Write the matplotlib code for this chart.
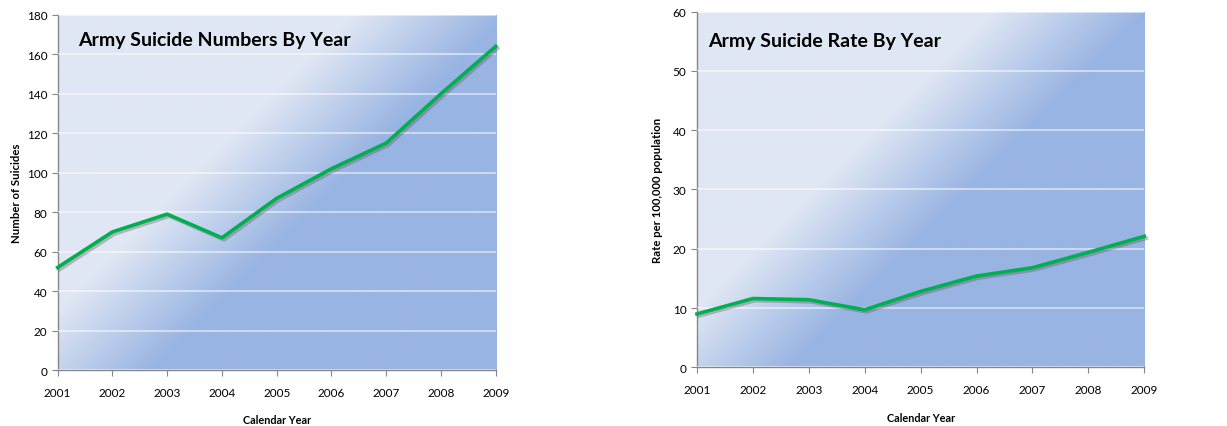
import numpy as np
import matplotlib
matplotlib.use("Agg")
import matplotlib.pyplot as plt
import matplotlib.patheffects as pe
from matplotlib.colors import LinearSegmentedColormap

plt.rcParams['font.family'] = ['Lato', 'DejaVu Sans']

# data
years = [2001, 2002, 2003, 2004, 2005, 2006, 2007, 2008, 2009]
suicide_numbers = [52, 70, 79, 67, 87, 102, 115, 140, 164]
suicide_rates = [9.0, 11.6, 11.4, 9.7, 12.8, 15.4, 16.8, 19.4, 22.1]

titles = ["Army Suicide Numbers By Year", "Army Suicide Rate By Year"]
ylabels = ["Number of Suicides", "Rate per 100,000 population"]
xlabel = "Calendar Year"

LIGHT = "#e0e7f4"
BLUE = "#98b4e2"
GREEN = "#00b050"
AXIS_GRAY = "#868686"

W, H, DPI = 1227, 427, 100
fig = plt.figure(figsize=(W / DPI, H / DPI), dpi=DPI)

ax1 = fig.add_axes([0.047, 0.131, 0.357, 0.832])
ax2 = fig.add_axes([0.568, 0.1375, 0.3646, 0.8328])

cmap = LinearSegmentedColormap.from_list("bg", [LIGHT, BLUE])


def gradient_bg(ax):
    # diagonal band running at 45 degrees in pixel space
    pos = ax.get_position()
    pw, ph = pos.width * W, pos.height * H
    px = np.linspace(0, pw, 400)
    py = np.linspace(ph, 0, 300)
    X, Y = np.meshgrid(px, py)
    s = X - Y
    t = np.clip((s + 60) / 155, 0, 1)
    ax.imshow(t, cmap=cmap, vmin=0, vmax=1, extent=(0, 1, 0, 1),
              transform=ax.transAxes, aspect="auto", zorder=0,
              interpolation="bilinear")


def style(ax, ymax, ystep, title, ylabel, tx, ty, ypad):
    gradient_bg(ax)
    ax.set_xlim(years[0], years[-1])
    ax.set_ylim(0, ymax)
    ax.set_xticks(years)
    ax.set_yticks(np.arange(0, ymax + 1, ystep))
    ax.grid(axis="y", color="white", alpha=0.5, linewidth=1.5, zorder=1)
    ax.set_axisbelow(False)
    for sp in ["top", "right"]:
        ax.spines[sp].set_visible(False)
    for sp in ["left", "bottom"]:
        ax.spines[sp].set_color(AXIS_GRAY)
        ax.spines[sp].set_linewidth(1.0)
    ax.tick_params(colors=AXIS_GRAY, labelcolor="black", labelsize=8.5,
                   length=4, direction="out")
    ax.tick_params(axis="x", pad=8)
    ax.set_xlabel(xlabel, fontsize=7.8, fontweight="bold", labelpad=12)
    ax.set_ylabel(ylabel, fontsize=8.2, fontweight="bold", labelpad=ypad)
    ax.text(tx, ty, title, transform=ax.transAxes, fontsize=14,
            fontweight="bold", va="center", ha="left", zorder=5)


style(ax1, 180, 20, titles[0], ylabels[0], 0.046, 0.93, 3)
style(ax2, 60, 10, titles[1], ylabels[1], 0.025, 0.918, 7)

shadow = [pe.SimpleLineShadow(offset=(1.5, -1.5), shadow_color="#555555", alpha=0.35),
          pe.Normal()]
ax1.plot(years, suicide_numbers, color=GREEN, linewidth=2.6, zorder=4,
         path_effects=shadow, clip_on=False)
ax2.plot(years, suicide_rates, color=GREEN, linewidth=2.6, zorder=4,
         path_effects=shadow, clip_on=False)

fig.savefig("out.png", dpi=DPI)
